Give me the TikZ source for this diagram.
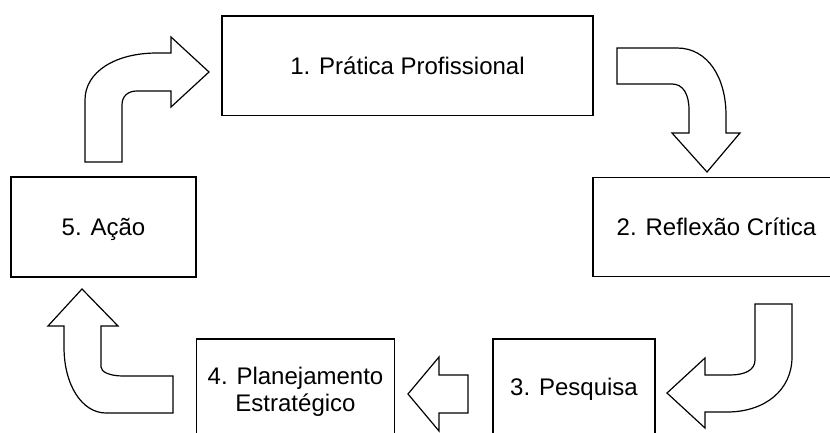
\documentclass[tikz,border=0pt]{standalone}
\usepackage{fontspec}
\setmainfont{Liberation Sans}
\begin{document}
\begin{tikzpicture}[x=1pt,y=-1pt]
\tikzset{
  box/.style={draw, line width=1.2pt, rectangle, inner sep=0pt,
    text height=17.2pt, text depth=0pt, font=\fontsize{24}{27.5}\selectfont},
  blockarrow/.style={draw, line width=1.2pt, fill=white, line join=miter}
}
\clip (0,0) rectangle (830,433);
\fill[white] (0,0) rectangle (830,433);
% boxes
\node[box, minimum width=371pt, minimum height=99.3pt] (b1) at (407.5,65.6) {1. Prática Profissional};
\node[box, minimum width=247pt, minimum height=99.4pt] (b2) at (716.5,227) {2. Reflexão Crítica};
\node[box, minimum width=162pt, minimum height=94.8pt] (b3) at (574,386.4) {3. Pesquisa};
\node[box, minimum width=197.6pt, minimum height=100.4pt, text height=44.7pt] (b4) at (295.5,389.2)
  {\begin{tabular}[b]{@{}c@{}}4. Planejamento\\Estratégico\end{tabular}};
\node[box, minimum width=185pt, minimum height=100pt] (b5) at (103.5,227) {5. Ação};
% arrow 5 -> 1
\draw[blockarrow] (85,162) -- (85,100) .. controls (85,72) and (115,53) .. (157,53)
  -- (171,53) -- (171,37) -- (209,72) -- (171,107) -- (171,91) -- (137,91)
  .. controls (128,91) and (122,96) .. (122,105) -- (122,162) -- cycle;
% arrow 1 -> 2
\draw[blockarrow] (617,48) -- (677,48) .. controls (708,48) and (726,78) .. (726,115)
  -- (726,133) -- (740,133) -- (707,172) -- (672,133) -- (689,133) -- (689,110)
  .. controls (689,94) and (683,84) .. (672,84) -- (617,84) -- cycle;
% arrow 2 -> 3
\draw[blockarrow] (755,304) -- (792,304) -- (792,357) .. controls (792,390) and (765,412) .. (727,412)
  -- (705,412) -- (705,428) -- (667,393) -- (705,358) -- (705,375) -- (730,375)
  .. controls (745,375) and (755,370) .. (755,360) -- cycle;
% arrow 3 -> 4
\draw[blockarrow] (468,375) -- (468,413) -- (439,413) -- (439,431) -- (408,394)
  -- (439,357) -- (439,375) -- cycle;
% arrow 4 -> 5
\draw[blockarrow] (82,289) -- (118,326) -- (101,326) -- (101,367)
  .. controls (101,372) and (110,376) .. (123,376) -- (173,376) -- (173,413) -- (106,413)
  .. controls (82,413) and (64,385) .. (64,347) -- (64,326) -- (48,326) -- cycle;
\end{tikzpicture}
\end{document}
